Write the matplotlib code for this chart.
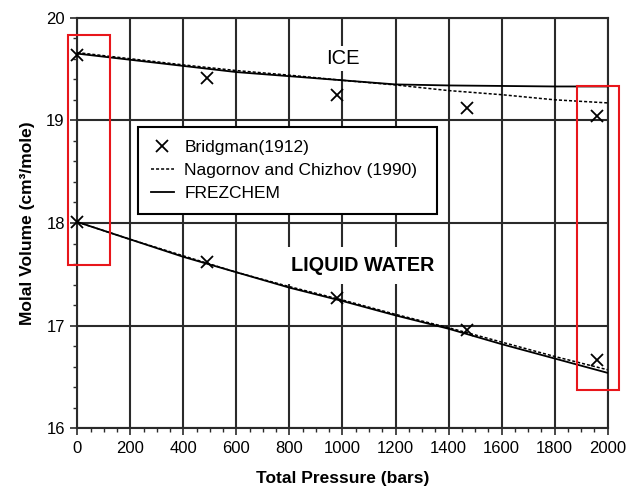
import matplotlib
matplotlib.use('Agg')
import matplotlib.pyplot as plt
from matplotlib.patches import Rectangle

plt.rcParams['font.family'] = ['Liberation Sans', 'DejaVu Sans']

# Bridgman (1912) measurements
bridg_p = [0, 490, 980, 1470, 1960]
bridg_ice = [19.64, 19.41, 19.25, 19.12, 19.04]
bridg_liq = [18.01, 17.62, 17.27, 16.96, 16.67]

# model curves
curve_p = [0, 200, 400, 600, 800, 1000, 1200, 1400, 1600, 1800, 2000]
ice_frez = [19.65, 19.59, 19.53, 19.47, 19.43, 19.39, 19.35, 19.34, 19.335, 19.33, 19.33]
ice_nag = [19.66, 19.60, 19.54, 19.485, 19.44, 19.39, 19.345, 19.29, 19.25, 19.20, 19.17]
liq_frez = [18.01, 17.84, 17.67, 17.52, 17.37, 17.24, 17.10, 16.97, 16.82, 16.68, 16.54]
liq_nag = [18.01, 17.84, 17.68, 17.52, 17.38, 17.25, 17.11, 16.98, 16.84, 16.70, 16.57]

fig = plt.figure(figsize=(6.41, 4.90), dpi=100)
ax = fig.add_axes([0.1206, 0.1259, 0.8274, 0.838])

dot = (0, (2, 1.3))
ax.plot(bridg_p, bridg_ice, 'x', color='k', ms=8, mew=1.3, label='Bridgman(1912)', zorder=5, clip_on=False)
ax.plot(curve_p, ice_nag, color='k', lw=1.1, ls=dot, label='Nagornov and Chizhov (1990)', zorder=4)
ax.plot(curve_p, ice_frez, color='k', lw=1.3, label='FREZCHEM', zorder=4)
ax.plot(bridg_p, bridg_liq, 'x', color='k', ms=8, mew=1.3, zorder=5, clip_on=False)
ax.plot(curve_p, liq_nag, color='k', lw=1.1, ls=dot, zorder=4)
ax.plot(curve_p, liq_frez, color='k', lw=1.3, zorder=4)

ax.set_xlim(0, 2000)
ax.set_ylim(16, 20)
ax.set_xticks(range(0, 2001, 200))
ax.set_xticks(range(0, 2001, 50), minor=True)
ax.set_yticks([16, 17, 18, 19, 20])
ax.set_yticks([16 + 0.2 * i for i in range(21)], minor=True)
ax.grid(True, which='major', color='#2a2a2a', lw=1.5, zorder=1)
ax.set_axisbelow(True)
for s in ax.spines.values():
    s.set_color('#2a2a2a')
    s.set_linewidth(1.5)
ax.tick_params(which='major', length=5, width=1.2, color='#2a2a2a', labelsize=12, pad=4)
ax.tick_params(which='minor', length=3, width=1.0, color='#2a2a2a')

ax.set_xlabel('Total Pressure (bars)', fontsize=12.5, fontweight='bold', labelpad=11)
ax.set_ylabel('Molal Volume (cm³/mole)', fontsize=12.5, fontweight='bold', labelpad=8)

ax.text(1000, 19.60, 'ICE', fontsize=14.5, ha='center', va='center', zorder=3,
        bbox=dict(boxstyle='square,pad=0.15', fc='white', ec='none'))
ax.text(1078, 17.59, 'LIQUID WATER', fontsize=14.3, fontweight='bold', ha='center', va='center',
        zorder=3, bbox=dict(boxstyle='square,pad=0.45', fc='white', ec='none'))

leg = ax.legend(loc='upper left', bbox_to_anchor=(0.114, 0.0, 0.564, 0.734), mode='expand',
                fontsize=12.5, frameon=True, fancybox=False, framealpha=1, edgecolor='k',
                borderpad=0.75, labelspacing=0.45, handlelength=1.33, handletextpad=0.6,
                borderaxespad=0)
leg.get_frame().set_linewidth(1.5)
leg.set_zorder(6)

# red highlight boxes
red = '#e8161b'
ax.add_patch(Rectangle((-35, 17.59), 158, 2.24, fill=False, ec=red, lw=1.5, clip_on=False, zorder=7))
ax.add_patch(Rectangle((1886, 16.37), 156, 2.96, fill=False, ec=red, lw=1.5, clip_on=False, zorder=7))

fig.savefig('out.png', dpi=100)
